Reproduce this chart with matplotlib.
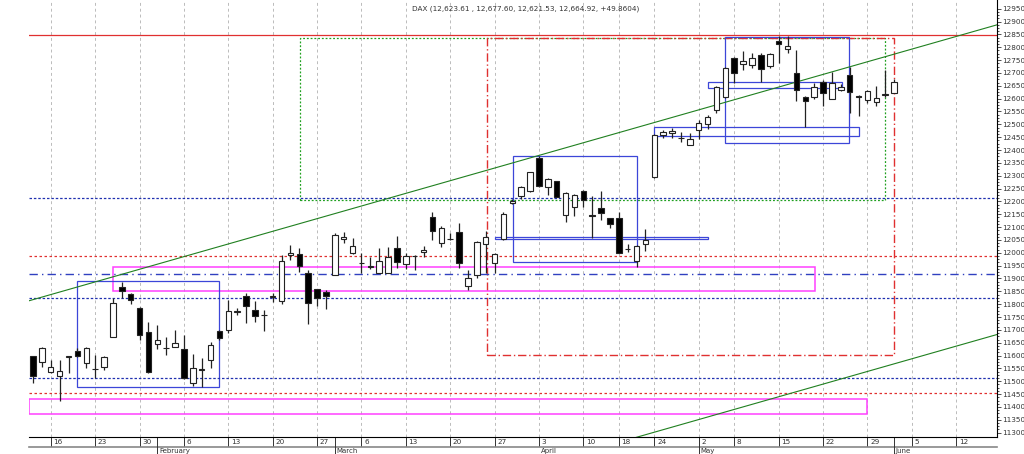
import matplotlib
matplotlib.use("Agg")
import matplotlib.pyplot as plt
import matplotlib.transforms as mtransforms
from matplotlib.patches import Rectangle
import numpy as np

opens = [11598,11576,11535,11521,11594,11619,11570,11547,11554,11674,11866,11840,11787,11691,11645,11628,11635,11626,11495,11545,11583,11697,11700,11770,11833,11777,11757,11828,11814,11990,11995,11920,11858,11849,11914,
         12053,12000,11959,11946,11923,11923,12018,11955,11987,12003,12141,12040,12052,12082,11872,11914,12033,11959,12053,12195,12221,12242,12368,12258,12278,12147,12177,12242,12146,12175,12134,12134,12014,11970,12034,
         12296,12458,12468,12446,12420,12478,12501,12556,12605,12757,12735,12731,12770,12727,12826,12792,12698,12608,12608,12666,12599,12634,12692,12609,12595,12588,12616,12623.61]
closes = [11522,11628,11554,11541,11597,11598,11628,11549,11596,11806,11853,11816,11680,11535,11661,11630,11650,11511,11550,11547,11641,11667,11775,11771,11794,11755,11756,11830,11968,11998,11950,11803,11823,11833,12069,
          12060,12027,11960,11947,11968,11983,11966,11988,11988,12011,12086,12095,12053,11962,11903,12041,12063,11995,12151,12203,12258,12315,12260,12286,12219,12234,12225,12206,12143,12156,12112,12001,12013,12027,12050,
          12459,12469,12475,12445,12442,12506,12530,12647,12721,12701,12748,12757,12714,12774,12813,12806,12634,12592,12644,12621,12660,12644,12625,12608,12631,12601,12617,12664.92]
highs = [11598,11635,11583,11583,11598,11628,11632,11602,11598,11823,11888,11842,11790,11732,11719,11674,11700,11680,11606,11589,11654,11700,11816,11784,11845,11814,11777,11842,11992,12030,12018,11933,11858,11855,12076,
         12082,12057,11998,11985,12018,12024,12066,11998,11992,12027,12160,12105,12076,12115,11933,12044,12086,11998,12160,12208,12260,12316,12377,12290,12281,12238,12229,12245,12221,12242,12134,12160,12034,12031,12092,
         12462,12478,12484,12471,12465,12517,12536,12649,12724,12761,12787,12776,12776,12776,12844,12844,12789,12610,12662,12672,12705,12657,12724,12614,12634,12649,12711,12677.60]
lows = [11495,11557,11531,11425,11531,11595,11550,11511,11544,11671,11823,11801,11661,11531,11624,11602,11632,11508,11482,11479,11550,11662,11689,11758,11726,11732,11697,11810,11801,11972,11927,11723,11793,11781,11914,
        12037,11996,11920,11936,11920,11920,11940,11936,11933,11983,12050,12021,12050,11940,11855,11901,11923,11923,12050,12190,12208,12238,12258,12225,12216,12121,12143,12180,12056,12128,12095,11998,12004,11946,12008,
        12290,12445,12445,12432,12420,12442,12481,12543,12601,12662,12711,12718,12666,12718,12737,12779,12592,12491,12597,12571,12597,12631,12545,12532,12584,12571,12608,12621.53]

week_idx = [2,7,12,17,22,27,32,37,42,47,52,57,62,66,70,75,79,84,89,94,99,104]
week_lbl = ["16","23","30","6","13","20","27","6","13","20","27","3","10","18","24","2","8","15","22","29","5","12"]
month_idx = [14,34,57,75,97]
month_lbl = ["February","March","April","May","June"]
month_sep = [True, True, False, True, True]

fig = plt.figure(figsize=(10.24,4.54), dpi=100)
ax = fig.add_axes([29/1024, 17/454, 968/1024, 437/454])
xmin, xmax = -0.45, 108.6
ax.set_xlim(xmin, xmax)
ax.set_ylim(11283, 12984)

for w in week_idx:
    ax.axvline(w, color="#bbbbbb", ls=(0,(3,3)), lw=0.7, zorder=0)

ax.axhline(12848, color="#e03030", lw=0.9)
for y in (11988, 11455):
    ax.axhline(y, color="#e03030", lw=0.9, ls=(0,(2,2)))
for y in (11825, 11513, 12213):
    ax.axhline(y, color="#2030b0", lw=0.9, ls=(0,(2,1.5)))
ax.axhline(11918, color="#3040c0", lw=1.0, ls=(0,(6,3,1,3)))

def rect(x0,x1,y0,y1,**kw):
    ax.add_patch(Rectangle((x0,y0),x1-x0,y1-y0,fill=False,**kw))

rect(30.07,96.0,12206,12838, edgecolor="#20a020", ls=(0,(1.5,1.5)), lw=0.9)
rect(51.1,97.0,11602,12838, edgecolor="#e03030", ls=(0,(6,2,1,2)), lw=1.0)
rect(9.0,88.1,11851,11944, edgecolor="#ff40ff", lw=1.1)
rect(xmin,94.0,11372,11430, edgecolor="#ff40ff", lw=1.1)
blue = "#3c46d8"
rect(4.96,20.9,11479,11890, edgecolor=blue, lw=0.9)
rect(54.1,68.1,11963,12377, edgecolor=blue, lw=0.9)
rect(52.1,76.0,12054,12063, edgecolor=blue, lw=0.9)
rect(78.0,91.9,12429,12841, edgecolor=blue, lw=0.9)
rect(76.0,91.1,12643,12666, edgecolor=blue, lw=0.9)
rect(70.0,93.0,12455,12488, edgecolor=blue, lw=0.9)

xs = np.array([xmin, xmax])
ax.plot(xs, 12491 + 9.85*(xs-68.36), color="#208020", lw=0.8)
ax.plot(xs, 11283 + 9.85*(xs-68.1), color="#208020", lw=0.8)

idx = np.arange(len(opens))
o = np.array(opens); c = np.array(closes)
ax.vlines(idx, lows, highs, color="#222222", lw=0.9, zorder=3)
bot = np.minimum(o,c); h = np.maximum(np.abs(c-o), 2)
cols = np.where(c >= o, "white", "black")
ax.bar(idx, h, bottom=bot, width=0.62, color=cols, edgecolor="#222222", lw=0.8, zorder=4)

ax.text(55.5, 12950, "DAX (12,623.61 , 12,677.60, 12,621.53, 12,664.92, +49.8604)",
        ha="center", va="center", fontsize=5.2, color="#333333")

ax.yaxis.tick_right()
ax.set_yticks(np.arange(11300, 12951, 50))
ax.set_yticks(np.arange(11300, 12951, 12.5), minor=True)
ax.tick_params(axis="y", labelsize=5.2, length=3, width=0.6, colors="#333333", pad=1)
ax.tick_params(axis="y", which="minor", length=1.5, width=0.5)
ax.set_xticks([])
for s in ("top","left"):
    ax.spines[s].set_visible(False)
ax.spines["bottom"].set_linewidth(0.8)
ax.spines["right"].set_linewidth(0.8)

tr = mtransforms.blended_transform_factory(ax.transData, ax.transAxes)
px = 1/437
for w,l in zip(week_idx, week_lbl):
    ax.plot([w,w],[0,-9*px], color="#333333", lw=0.7, transform=tr, clip_on=False)
    ax.text(w+0.3, -4.5*px, l, transform=tr, fontsize=5.2, va="center", ha="left", color="#333333")
ax.plot([xmin, xmax],[-10*px,-10*px], color="#888888", lw=1.2, transform=tr, clip_on=False)
for m,l,sep in zip(month_idx, month_lbl, month_sep):
    if sep:
        ax.plot([m,m],[0,-17*px], color="#333333", lw=0.7, transform=tr, clip_on=False)
    ax.text(m+0.2, -14*px, l, transform=tr, fontsize=5, va="center", ha="left", color="#333333")

fig.savefig("out.png", dpi=100)
